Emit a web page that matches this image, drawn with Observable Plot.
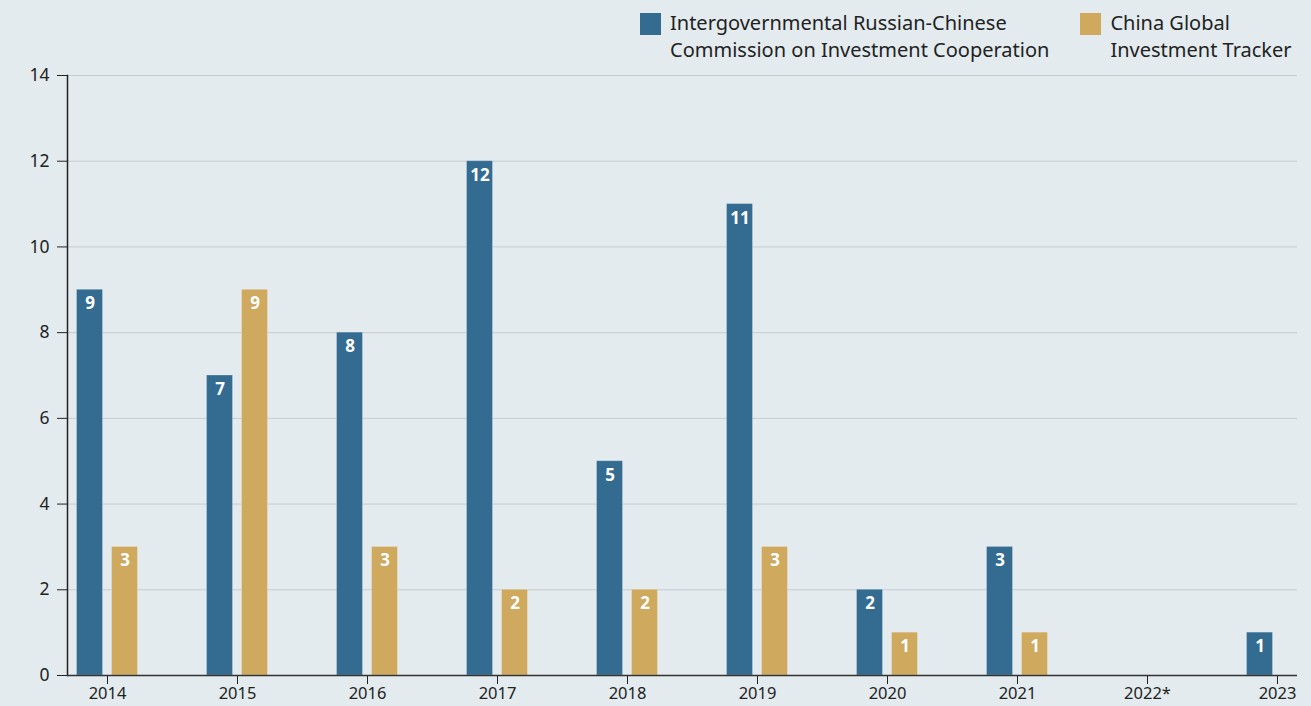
<!DOCTYPE html>
<html>
<head>
<meta charset="utf-8">
<script src="https://cdn.jsdelivr.net/npm/d3@7"></script>
<script src="https://cdn.jsdelivr.net/npm/@observablehq/plot@0.6"></script>
<style>
  html, body { margin: 0; padding: 0; background: #e3ebee; }
  body { width: 1311px; height: 706px; overflow: hidden; position: relative; font-family: "Noto Sans", Roboto, sans-serif; }
  #legend { position: absolute; top: 9px; left: 640px; display: flex; gap: 0; font-size: 20px; line-height: 27px; color: #222; white-space: nowrap; }
  .item { display: flex; align-items: flex-start; }
  .sw { width: 21px; height: 22px; margin-top: 4px; margin-right: 9px; flex: none; }
  #chart { position: absolute; top: 0; left: 0; }
</style>
</head>
<body>
<div id="legend"></div>
<div id="chart"></div>
<script>
const years = ["2014","2015","2016","2017","2018","2019","2020","2021","2022*","2023"];
const seriesNames = ["Intergovernmental Russian-Chinese Commission on Investment Cooperation", "China Global Investment Tracker"];
const commission = [9, 7, 8, 12, 5, 11, 2, 3, null, 1];
const tracker = [3, 9, 3, 2, 2, 3, 1, 1, null, null];
const colors = ["#336b91", "#cea95e"];
const yTicks = [0, 2, 4, 6, 8, 10, 12, 14];

const data = [];
years.forEach((y, i) => {
  if (commission[i] != null) data.push({year: y, series: seriesNames[0], value: commission[i]});
  if (tracker[i] != null) data.push({year: y, series: seriesNames[1], value: tracker[i]});
});
const blue = data.filter(d => d.series === seriesNames[0]);
const gold = data.filter(d => d.series === seriesNames[1]);
const OFF = 17.5;
const FONT = "'Noto Sans', Roboto, sans-serif";

const plot = Plot.plot({
  width: 1311,
  height: 706,
  marginTop: 75,
  marginBottom: 31,
  marginLeft: 67,
  marginRight: 14,
  style: {background: "transparent", fontFamily: FONT, fontSize: "16px", color: "#222"},
  x: {domain: years, range: [93, 1290], paddingInner: 0.8, paddingOuter: 0, label: null},
  y: {domain: [0, 14], ticks: yTicks, label: null},
  color: {domain: seriesNames, range: colors},
  marks: [
    Plot.gridY(yTicks.filter(t => t > 0), {stroke: "#c3cdd2", strokeOpacity: 1, strokeWidth: 1}),
    Plot.barY(blue, {x: "year", y: "value", fill: "series", dx: -OFF, stroke: "#ffffff", strokeOpacity: 0.25, strokeWidth: 1}),
    Plot.barY(gold, {x: "year", y: "value", fill: "series", dx: OFF, stroke: "#ffffff", strokeOpacity: 0.25, strokeWidth: 1}),
    Plot.text(blue, {x: "year", y: "value", text: d => String(d.value), dx: -OFF, dy: 14, fill: "white", fontWeight: "bold", fontSize: 17}),
    Plot.text(gold, {x: "year", y: "value", text: d => String(d.value), dx: OFF, dy: 14, fill: "white", fontWeight: "bold", fontSize: 17}),
    Plot.axisY({ticks: yTicks, tickSize: 10, tickPadding: 8, fontSize: 17.5, stroke: "#222"}),
    Plot.axisX({tickSize: 9, tickPadding: 3, fontSize: 16.5, stroke: "#222"}),
    Plot.frame({anchor: "left", stroke: "#222", strokeWidth: 1.5}),
    Plot.ruleY([0], {stroke: "#333", strokeWidth: 1.5})
  ]
});
document.getElementById("chart").appendChild(plot);

const legend = document.getElementById("legend");
const labels = [["Intergovernmental Russian-Chinese", "Commission on Investment Cooperation"], ["China Global", "Investment Tracker"]];
labels.forEach((lines, i) => {
  const item = document.createElement("div");
  item.className = "item";
  item.style.marginRight = i === 0 ? "31px" : "0";
  const sw = document.createElement("div");
  sw.className = "sw";
  sw.style.background = colors[i];
  const txt = document.createElement("div");
  txt.innerHTML = lines.join("<br>");
  item.appendChild(sw);
  item.appendChild(txt);
  legend.appendChild(item);
});
</script>
</body>
</html>
